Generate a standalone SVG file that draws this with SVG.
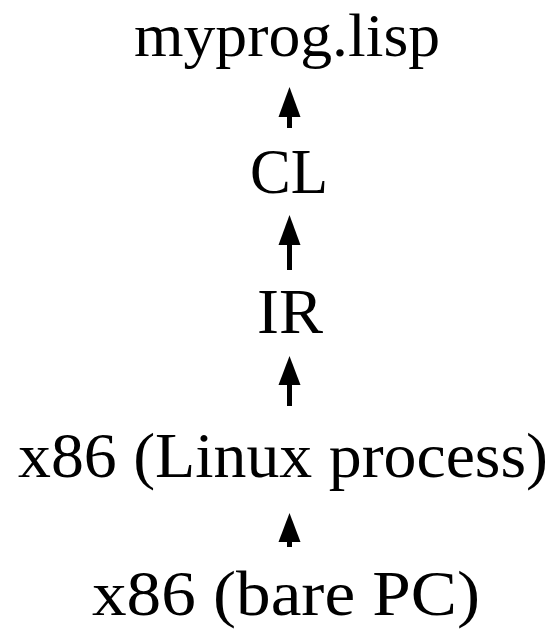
<svg xmlns="http://www.w3.org/2000/svg" width="560" height="632" viewBox="0 0 560 632">
<style>
.t{font-family:"Liberation Serif","DejaVu Serif",serif;font-size:64px;fill:#000;text-anchor:middle}
.s{stroke:#000;stroke-width:5;fill:none}
.h{fill:#000}
</style>
<rect width="560" height="632" fill="#fff"/>
<g id="connectors">
<line class="s" x1="289.5" y1="128" x2="289.5" y2="110"/>
<path class="h" d="M289.5 87 L300.5 117 L278.5 117 Z"/>
<line class="s" x1="289.5" y1="270" x2="289.5" y2="240"/>
<path class="h" d="M289.5 215 L300.5 245 L278.5 245 Z"/>
<line class="s" x1="289.5" y1="406" x2="289.5" y2="380"/>
<path class="h" d="M289.5 356 L300.5 385 L278.5 385 Z"/>
<line class="s" x1="289.5" y1="547" x2="289.5" y2="538"/>
<path class="h" d="M289.5 513 L300.5 542 L278.5 542 Z"/>
</g>
<g id="n1"><text class="t" x="287" y="56" style="font-size:62px" textLength="306" lengthAdjust="spacingAndGlyphs">myprog.lisp</text></g>
<g id="n2"><text class="t" x="289" y="193" textLength="78" lengthAdjust="spacingAndGlyphs">CL</text></g>
<g id="n3"><text class="t" x="290" y="333" textLength="66" lengthAdjust="spacingAndGlyphs">IR</text></g>
<g id="n4"><text class="t" x="283" y="477" textLength="530" lengthAdjust="spacingAndGlyphs">x86 (Linux process)</text></g>
<g id="n5"><text class="t" x="286" y="615" textLength="388" lengthAdjust="spacingAndGlyphs">x86 (bare PC)</text></g>
</svg>
